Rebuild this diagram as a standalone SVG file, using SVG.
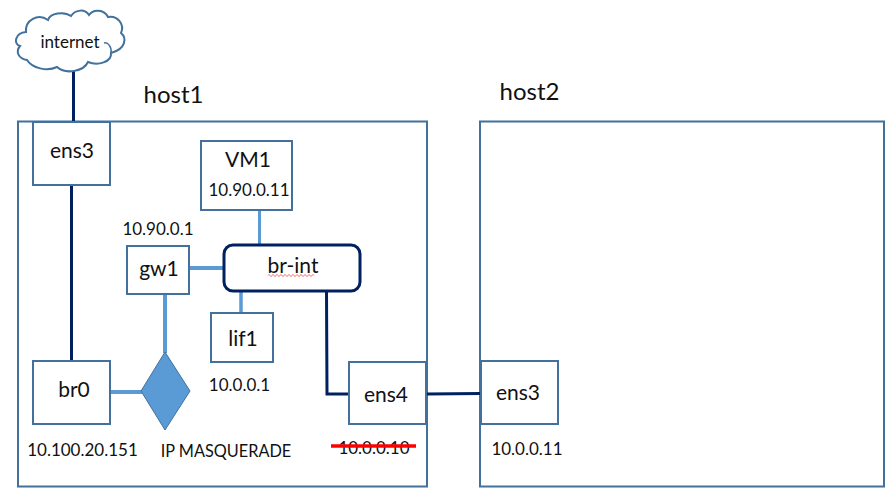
<svg xmlns="http://www.w3.org/2000/svg" width="894" height="497" viewBox="0 0 894 497">
<style>
text{font-family:Lato,"Liberation Sans",sans-serif;fill:#111;text-anchor:middle}
.box{fill:#fff;stroke:#41719c;stroke-width:2}
.frame{fill:none;stroke:#41719c;stroke-width:2}
.l{font-size:21px}
.s{font-size:17px}
.h{font-size:24px}
.dark{fill:none;stroke:#002060;stroke-width:3}
.light{fill:none;stroke:#5b9bd5;stroke-width:4}
</style>
<rect width="894" height="497" fill="#fff"/>
<g id="host1"><rect class="frame" x="18" y="121.500" width="409" height="365"/><text class="h" x="173.500" y="103">host1</text></g>
<g id="host2"><rect class="frame" x="480" y="121.500" width="404" height="365"/><text class="h" x="529.500" y="100">host2</text></g>
<g id="connectors">
<path class="dark" d="M73.500 70V122"/>
<path class="dark" d="M71.500 185V361"/>
<path class="dark" d="M326.500 291L327 394H349"/>
<path class="dark" d="M427 394L481 393.500"/>
<path class="light" style="stroke-width:3" d="M259.500 210V245"/>
<path class="light" d="M189 268H225"/>
<path class="light" style="stroke-width:3.500" d="M241 291V313"/>
<path class="light" d="M165 294V353"/>
<path class="light" d="M110 392H142"/>
</g>
<g id="internet">
<path d="M26 32C25 20 38 13 48 20C50 13 64 11 71 16C76 9 85 9 89 15C93 9 104 9 108 17C117 15 125 24 121 33C127 38 126 49 111 53C112 62 98 66 88 62C84 71 66 75 57 67C47 72 32 68 27 60C19 59 15 52 20 46C13 44 15 33 26 32Z" fill="#fff" stroke="#41719c" stroke-width="2"/>
<path d="M104 43C108 42 112 47 111 53" fill="none" stroke="#41719c" stroke-width="1.500"/>
<text class="s" x="70" y="48">internet</text>
</g>
<g id="ens3-host1"><rect class="box" x="33" y="122" width="77" height="63"/><text class="l" x="72" y="158">ens3</text></g>
<g id="vm1"><rect class="box" x="201" y="141" width="91" height="69"/><text class="l" x="248" y="167">VM1</text><text class="s" x="249" y="196">10.90.0.11</text></g>
<g id="gw1"><rect class="box" x="127" y="246" width="62" height="48"/><text class="l" x="159" y="276">gw1</text><text class="s" x="158" y="235">10.90.0.1</text></g>
<g id="br-int"><rect x="224" y="245" width="136" height="46" rx="9" fill="#fff" stroke="#002060" stroke-width="3"/><text class="l" x="293" y="273">br-int</text>
<path d="M268 275.500q1-2 2-0t2 0t2 0t2 0t2 0t2 0t2 0t2 0t2 0t2 0t2 0t2 0t2 0t2 0t2 0t2 0t2 0t2 0t2 0t2 0t2 0t2 0t2 0" fill="none" stroke="#e33" stroke-width="0.800"/></g>
<g id="lif1"><rect class="box" x="211" y="313" width="62" height="49"/><text class="l" x="243" y="346">lif1</text><text class="s" x="239.500" y="391">10.0.0.1</text></g>
<g id="br0"><rect class="box" x="33" y="361" width="77" height="63"/><text class="l" x="74" y="397">br0</text><text class="s" x="82.500" y="456">10.100.20.151</text></g>
<g id="masquerade"><path d="M165 352L190 391L165 430L141 391Z" fill="#5b9bd5" stroke="#41719c" stroke-width="1"/><text class="s" style="font-size:16.300px" x="226" y="457">IP MASQUERADE</text></g>
<g id="ens4"><rect class="box" x="349" y="362" width="77" height="62"/><text class="l" x="386" y="402">ens4</text><text class="s" x="374" y="454">10.0.0.10</text><path d="M331 446H416" stroke="#f00" stroke-width="3.500"/></g>
<g id="ens3-host2"><rect class="box" x="481" y="361" width="77" height="63"/><text class="l" x="518" y="400">ens3</text><text class="s" x="527" y="455">10.0.0.11</text></g>
</svg>
